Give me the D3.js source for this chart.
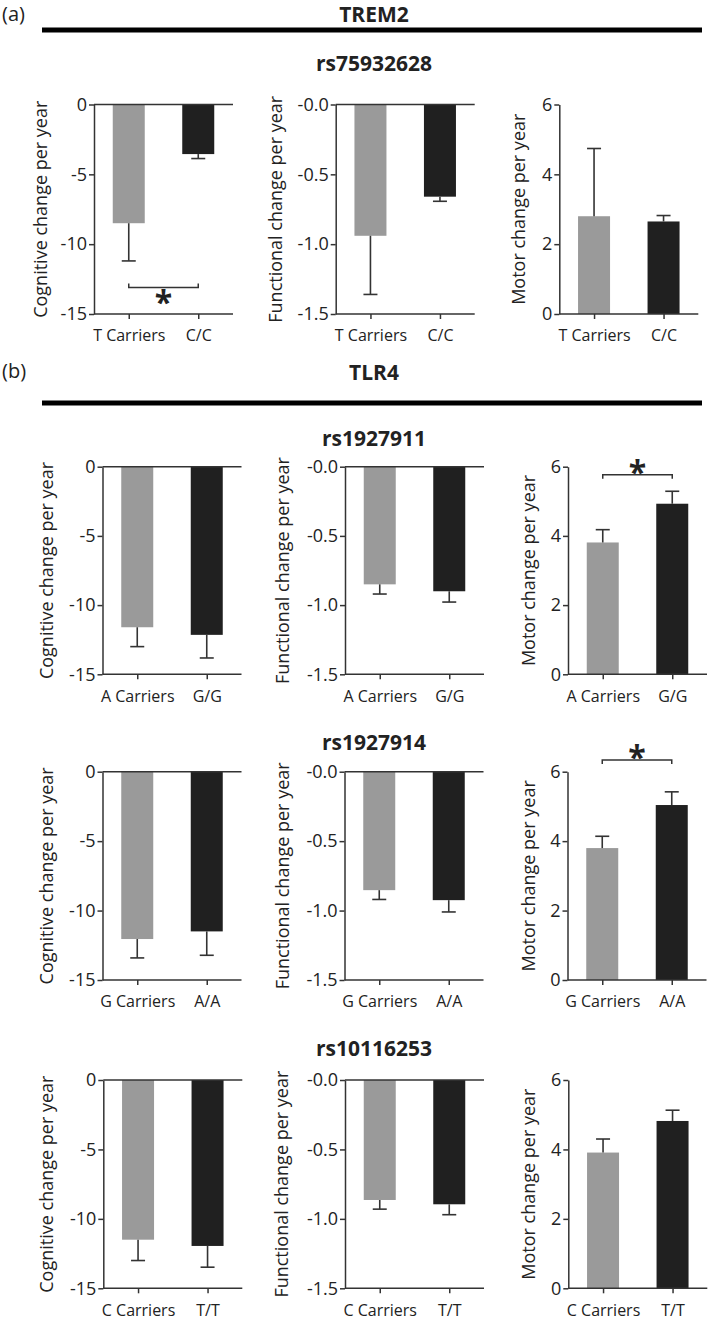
<!DOCTYPE html>
<html><head><meta charset="utf-8">
<script src="https://cdn.jsdelivr.net/npm/d3@7/dist/d3.min.js"></script>
<style>body{margin:0;background:#fff}svg{display:block}text{font-family:"Open Sans",sans-serif;fill:#222}</style>
</head><body><svg id="c" width="709" height="1320"></svg>
<script>
// ---------------- data ----------------
const panelLetters = ["(a)", "(b)"];
const genes = ["TREM2", "TLR4"];
const snps = ["rs75932628", "rs1927911", "rs1927914", "rs10116253"];
const groups = [["T Carriers","C/C"],["A Carriers","G/G"],["G Carriers","A/A"],["C Carriers","T/T"]];
const measures = ["Cognitive change per year","Functional change per year","Motor change per year"];
const cognitiveMean = [[-8.5,-3.55],[-11.6,-12.15],[-12.05,-11.5],[-11.5,-11.95]];
const cognitiveErr  = [[2.7,0.32],[1.4,1.67],[1.36,1.72],[1.5,1.53]];
const functionalMean = [[-0.94,-0.66],[-0.85,-0.90],[-0.853,-0.925],[-0.864,-0.895]];
const functionalErr  = [[0.42,0.033],[0.07,0.078],[0.067,0.085],[0.066,0.075]];
const motorMean = [[2.8,2.65],[3.81,4.93],[3.80,5.04],[3.91,4.82]];
const motorErr  = [[1.94,0.17],[0.37,0.36],[0.34,0.38],[0.39,0.31]];
const cognitiveTicks = [0,-5,-10,-15], cognitiveTickLabels = ["0","-5","-10","-15"];
const functionalTicks = [0,-0.5,-1.0,-1.5], functionalTickLabels = ["-0.0","-0.5","-1.0","-1.5"];
const motorTicks = [0,2,4,6], motorTickLabels = ["0","2","4","6"];
const cognitiveDomain = [-15,0], functionalDomain = [-1.5,0], motorDomain = [0,6];
// significance: [row, panel, bracket level (data units), star above?]
const sigRow = [0,1,2], sigPanel = [0,2,2], sigLevel = [-13.1,5.77,6.34], sigAbove = [false,true,true];

// ---------------- layout ----------------
const svg = d3.select("#c");
const rowTop = [104.5,466.7,771.7,1080], rowBot = [314,674.3,980,1288.3];
const colX = [[94,335.7,559.3],[102.5,345,568],[102.5,344.5,567.5],[103.3,345,568.3]];
const titleOff = [[47,54,34],[50,56,33],[50,56,33],[50,57,33]];
const W = 139, barW = 32, capW = 14;
const colors = ["#9a9a9a","#202020"];
const ink = "#333";

// headers
const hdrY = [[21,22,30],[378,380,403]];
genes.forEach((g,i)=>{
  svg.append("text").attr("x",2).attr("y",hdrY[i][0]).attr("font-size",20).text(panelLetters[i]);
  svg.append("text").attr("x",374).attr("y",hdrY[i][1]).attr("font-size",21).attr("font-weight","bold").attr("text-anchor","middle").text(g);
  svg.append("rect").attr("x",42).attr("y",hdrY[i][2]-2.5).attr("width",660).attr("height",5).attr("fill","#000");
});
const snpY = [71,445.5,750,1056];
snps.forEach((s,i)=>svg.append("text").attr("x",374).attr("y",snpY[i]).attr("font-size",21)
  .attr("font-weight","bold").attr("text-anchor","middle").text(s));

const specs = [
  {mean:cognitiveMean, err:cognitiveErr, ticks:cognitiveTicks, labels:cognitiveTickLabels, dom:cognitiveDomain},
  {mean:functionalMean, err:functionalErr, ticks:functionalTicks, labels:functionalTickLabels, dom:functionalDomain},
  {mean:motorMean, err:motorErr, ticks:motorTicks, labels:motorTickLabels, dom:motorDomain}
];

const scales = {};
for (let r=0;r<4;r++){
  for (let p=0;p<3;p++){
    const sp = specs[p];
    const g = svg.append("g").attr("transform",`translate(${colX[r][p]},0)`);
    const y = d3.scaleLinear().domain(sp.dom).range([rowBot[r],rowTop[r]]);
    const x = d3.scalePoint().domain(groups[r]).range([0,W]).padding(0.5);
    scales[r+"_"+p] = {x,y,g};
    const neg = sp.dom[1] === 0 && sp.dom[0] < 0;
    // bars
    g.selectAll("rect.bar").data(groups[r]).join("rect")
      .attr("x",d=>x(d)-barW/2).attr("width",barW)
      .attr("y",(d,i)=>Math.min(y(0),y(sp.mean[r][i])))
      .attr("height",(d,i)=>Math.abs(y(sp.mean[r][i])-y(0)))
      .attr("fill",(d,i)=>colors[i]);
    // error bars
    groups[r].forEach((d,i)=>{
      const m = sp.mean[r][i], e = neg ? m - sp.err[r][i] : m + sp.err[r][i];
      g.append("line").attr("x1",x(d)).attr("x2",x(d)).attr("y1",y(m)).attr("y2",y(e)).attr("stroke",ink).attr("stroke-width",1.6);
      g.append("line").attr("x1",x(d)-capW/2).attr("x2",x(d)+capW/2).attr("y1",y(e)).attr("y2",y(e)).attr("stroke",ink).attr("stroke-width",1.6);
    });
    // y axis
    const ya = g.append("g").call(d3.axisLeft(y).tickValues(sp.ticks).tickFormat((d,i)=>sp.labels[i]).tickSize(5).tickPadding(2).tickSizeOuter(0));
    // x axis at bottom
    const xa = g.append("g").attr("transform",`translate(0,${rowBot[r]})`)
      .call(d3.axisBottom(x).tickSize(5).tickPadding(11).tickSizeOuter(0));
    xa.select(".domain").attr("d",`M0,0H${W}`);
    // zero line on top for negative charts
    if (neg) g.append("line").attr("x1",0).attr("x2",W).attr("y1",y(0)).attr("y2",y(0)).attr("stroke",ink).attr("stroke-width",1.5);
    [ya,xa].forEach(a=>{
      a.selectAll("path,line").attr("stroke",ink).attr("stroke-width",1.5);
      a.selectAll("text").attr("font-family","'Open Sans',sans-serif").attr("fill","#222");
    });
    ya.selectAll("text").attr("font-size",18);
    xa.selectAll("text").attr("font-size",16);
    // axis title
    const cy = (rowTop[r]+rowBot[r])/2;
    g.append("text").attr("transform",`translate(${-titleOff[r][p]},${cy}) rotate(-90)`)
      .attr("text-anchor","middle").attr("font-size",18).text(measures[p]);
  }
}
// significance brackets
sigRow.forEach((r,k)=>{
  const {x,y,g} = scales[r+"_"+sigPanel[k]];
  const x1 = x(groups[r][0]), x2 = x(groups[r][1]), yb = y(sigLevel[k]);
  const dir = sigAbove[k] ? 4 : -4;
  g.append("path").attr("d",`M${x1},${yb+dir}V${yb}H${x2}V${yb+dir}`).attr("fill","none").attr("stroke",ink).attr("stroke-width",1.5);
  const sy = sigAbove[k] ? yb-8 : yb+10;
  g.append("text").attr("x",(x1+x2)/2).attr("y",sy+17).attr("text-anchor","middle")
    .attr("font-size",32).attr("font-weight","bold").text("*");
});
</script></body></html>
